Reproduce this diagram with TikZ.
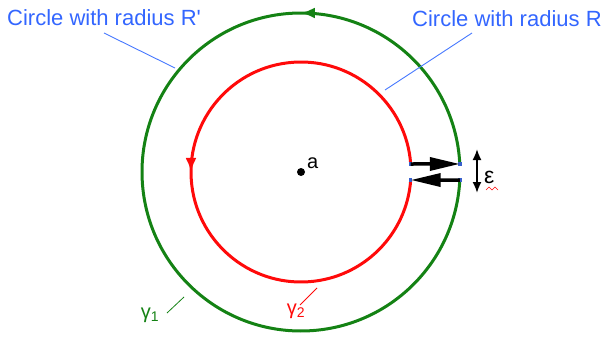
\documentclass[tikz,border=0pt]{standalone}
\usepackage{fontspec}
\setmainfont{Liberation Sans}
\usetikzlibrary{arrows.meta,decorations.markings}
\definecolor{labelblue}{RGB}{51,102,255}
\definecolor{leaderblue}{RGB}{70,120,255}
\definecolor{pathgreen}{RGB}{20,130,20}
\definecolor{pathred}{RGB}{255,10,10}
\tikzset{
  loopline/.style={line width=3pt},
  leader/.style={leaderblue, line width=0.9pt},
  bigarrow/.style={line width=3.5pt, -{Triangle[length=30pt,width=13pt]}},
  endmark/.style={fill=leaderblue!80!black, inner sep=0pt, minimum size=3.5pt},
  marked/.style={postaction={decorate, decoration={markings,
      mark=at position #1 with {\arrow{Latex[length=14pt,width=11pt]}}}}},
  lbl/.style={font=\fontsize{20}{24}\selectfont, inner sep=0pt}
}
\begin{document}
\begin{tikzpicture}[x=1pt, y=1pt]
  \useasboundingbox (0,0) rectangle (603,-337);
  \coordinate (centre) at (301,-172);

  % outer loop gamma_1 and inner loop gamma_2
  \draw[loopline, pathgreen, marked=0.246] ([shift={(2.9:159)}]centre) arc (2.9:357.1:159);
  \draw[loopline, pathred, marked=0.5] ([shift={(4.17:110)}]centre) arc (4.17:355.83:110);

  % ends of the cut
  \coordinate (redtop) at ([shift={(4.17:110)}]centre);
  \coordinate (redbot) at ([shift={(-4.17:110)}]centre);
  \coordinate (greentop) at ([shift={(2.9:159)}]centre);
  \coordinate (greenbot) at ([shift={(-2.9:159)}]centre);
  \foreach \p in {redtop,redbot,greentop,greenbot}
    \node[endmark] at (\p) {};

  % the two crossing segments
  \draw[bigarrow] (redtop) -- (greentop);
  \draw[bigarrow] (greenbot) -- (redbot);

  % centre point
  \fill (centre) circle (4);
  \node[lbl, anchor=base west] (alabel) at (307,-168) {a};

  % width of the cut
  \coordinate (epstop) at (477,-149);
  \coordinate (epsbot) at (477,-193);
  \draw[line width=1.8pt, {Latex[length=11pt,width=9pt]}-{Latex[length=11pt,width=9pt]}] (epstop) -- (epsbot);
  \node[lbl, font=\fontsize{23}{26}\selectfont, anchor=base west] (epslabel) at (484,-183) {ε};
  \draw[pathred, line width=0.6pt] (486,-190) -- (489,-187) -- (492,-190) -- (495,-187) -- (498,-190);

  % labels for the radii
  \node[lbl, labelblue, font=\fontsize{22}{26}\selectfont, anchor=base west] (outerlabel) at (7,-26) {Circle with radius R\textquotesingle};
  \node[lbl, labelblue, font=\fontsize{22}{26}\selectfont, anchor=base west] (innerlabel) at (412,-27) {Circle with radius R};
  \coordinate (outerhit) at (175,-68);
  \coordinate (innerhit) at (385,-90);
  \draw[leader] (104,-33) -- (outerhit);
  \draw[leader] (472,-33) -- (innerhit);

  % names of the loops
  \node[lbl, pathgreen, anchor=base] (gammaone) at (150,-318) {γ\textsubscript{1}};
  \node[lbl, pathred, anchor=base] (gammatwo) at (296,-314) {γ\textsubscript{2}};
  \draw[pathgreen, line width=0.8pt] (167,-313) -- (184,-297);
  \draw[pathred, line width=0.8pt] (300,-305) -- (317,-288);
\end{tikzpicture}
\end{document}
